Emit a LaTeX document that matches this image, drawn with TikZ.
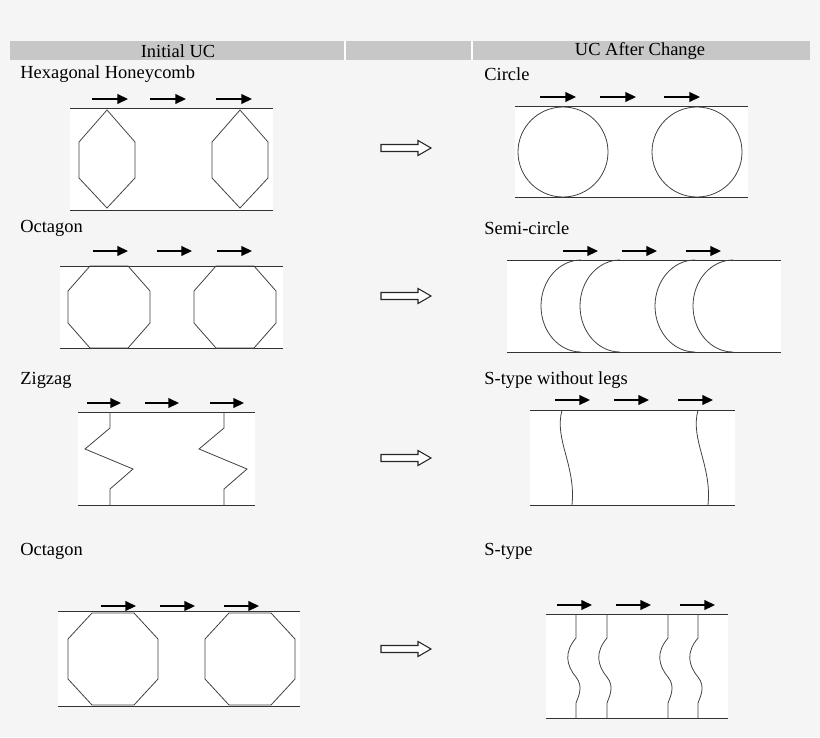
\documentclass[tikz,border=0pt]{standalone}
\usepackage{fontspec}
\setmainfont{Liberation Serif}
\usetikzlibrary{arrows.meta}

\tikzset{
  lbl/.style={anchor=west, inner sep=0pt, font=\fontsize{10.5}{12}\selectfont},
  push/.style={line width=0.9pt, -{Triangle[length=6pt,width=5.5pt]}},
  edge/.style={line width=0.5pt, draw=black!80},
  cell/.style={line width=0.45pt, draw=black!75},
  change/.style={line width=0.6pt, draw=black!85, fill=white},
}

% hollow arrow between columns
\newcommand{\changearrow}[1]{%
  \draw[change] (381,#1-3.5) -- (418,#1-3.5) -- (418,#1-7.5) -- (431,#1)
    -- (418,#1+7.5) -- (418,#1+3.5) -- (381,#1+3.5) -- cycle;}
% octagon: left x, right x, top y, bottom y, corner dx, corner dy
\newcommand{\octa}[6]{%
  \draw[cell] (#1+#5,#3) -- (#2-#5,#3) -- (#2,#3+#6) -- (#2,#4-#6)
    -- (#2-#5,#4) -- (#1+#5,#4) -- (#1,#4-#6) -- (#1,#3+#6) -- cycle;}

\begin{document}
\begin{tikzpicture}[x=0.02cm, y=-0.02cm]
  \useasboundingbox[fill=black!4] (0,0) rectangle (820,737);

  % header
  \fill[black!22] (10,41) rectangle (810,60);
  \draw[white, line width=0.6pt] (345,41) -- (345,60);
  \draw[white, line width=0.6pt] (472,41) -- (472,60);
  \node[font=\fontsize{10.5}{12}\selectfont, inner sep=0pt] (hinit) at (178,51) {Initial UC};
  \node[font=\fontsize{10.5}{12}\selectfont, inner sep=0pt] (hafter) at (640,51) {UC After Change};

  % Hexagonal Honeycomb
  \node[lbl] (lhex) at (20,74) {Hexagonal Honeycomb};
  \fill[white] (70,108) rectangle (273,210);
  \draw[edge] (70,108) -- (273,108);
  \draw[edge] (70,210) -- (273,210);
  \foreach \c in {107,240}
    \draw[cell] (\c,110) -- (\c+28,142) -- (\c+28,178) -- (\c,208)
      -- (\c-28,178) -- (\c-28,142) -- cycle;
  \foreach \a in {92,150,216}
    \draw[push] (\a,99) -- (\a+36,99);
  \changearrow{148}

  % Circle
  \node[lbl] (lcirc) at (484,74) {Circle};
  \fill[white] (515,106) rectangle (748,197);
  \draw[edge] (515,106) -- (748,106);
  \draw[edge] (515,197) -- (748,197);
  \foreach \c in {563,697}
    \draw[cell] (\c,152) circle[radius=45];
  \foreach \a in {540,600,664}
    \draw[push] (\a,97) -- (\a+36,97);

  % Octagon
  \node[lbl] (loct) at (20,228) {Octagon};
  \fill[white] (60,266) rectangle (283,348);
  \draw[edge] (60,266) -- (283,266);
  \draw[edge] (60,348) -- (283,348);
  \octa{68}{150}{266}{348}{22}{25}
  \octa{194}{276}{266}{348}{22}{25}
  \foreach \a in {93,157,217}
    \draw[push] (\a,251) -- (\a+35,251);
  \changearrow{296}

  % Semi-circle
  \node[lbl] (lsemi) at (484,228) {Semi-circle};
  \fill[white] (507,260) rectangle (781,352);
  \draw[edge] (507,260) -- (781,260);
  \draw[edge] (507,352) -- (781,352);
  \foreach \t in {581,620,695,733}
    \draw[cell] (\t,260) arc[start angle=-90, end angle=-270, x radius=40, y radius=46];
  \foreach \a in {563,622,686}
    \draw[push] (\a,251) -- (\a+35,251);

  % Zigzag
  \node[lbl] (lzig) at (20,380) {Zigzag};
  \fill[white] (78,412) rectangle (255,505);
  \draw[edge] (78,412) -- (255,412);
  \draw[edge] (78,505) -- (255,505);
  \foreach \c in {110,224}
    \draw[cell] (\c,412) -- (\c,428) -- (\c-25,449) -- (\c+23,469)
      -- (\c,489) -- (\c,505);
  \foreach \a in {87,145,210}
    \draw[push] (\a,403) -- (\a+34,403);
  \changearrow{458}

  % S-type without legs
  \node[lbl] (lsnl) at (484,380) {S-type without legs};
  \fill[white] (530,410) rectangle (735,505);
  \draw[edge] (530,410) -- (735,410);
  \draw[edge] (530,505) -- (735,505);
  \foreach \c in {562,698}
    \draw[cell] (\c,410) .. controls (\c-8,440) and (\c+14,465) .. (\c+10,505);
  \foreach \a in {555,614,678}
    \draw[push] (\a,400) -- (\a+35,400);

  % Octagon (2)
  \node[lbl] (loct2) at (20,551) {Octagon};
  \fill[white] (58,611) rectangle (300,706);
  \draw[edge] (58,611) -- (300,611);
  \draw[edge] (58,706) -- (300,706);
  \octa{68}{158}{613}{705}{24}{26}
  \octa{205}{295}{613}{705}{24}{26}
  \foreach \a in {101,160,224}
    \draw[push] (\a,606) -- (\a+35,606);
  \changearrow{649}

  % S-type
  \node[lbl] (lst) at (484,551) {S-type};
  \fill[white] (546,614) rectangle (728,718);
  \draw[edge] (546,614) -- (728,614);
  \draw[edge] (546,718) -- (728,718);
  \foreach \c in {576,607,668,698}
    \draw[cell] (\c,614) -- (\c,638) .. controls (\c-12,652) and (\c-10,665) .. (\c,677)
      .. controls (\c+8,687) and (\c+2,697) .. (\c,703) -- (\c,718);
  \foreach \a in {557,616,680}
    \draw[push] (\a,605) -- (\a+35,605);
\end{tikzpicture}
\end{document}
